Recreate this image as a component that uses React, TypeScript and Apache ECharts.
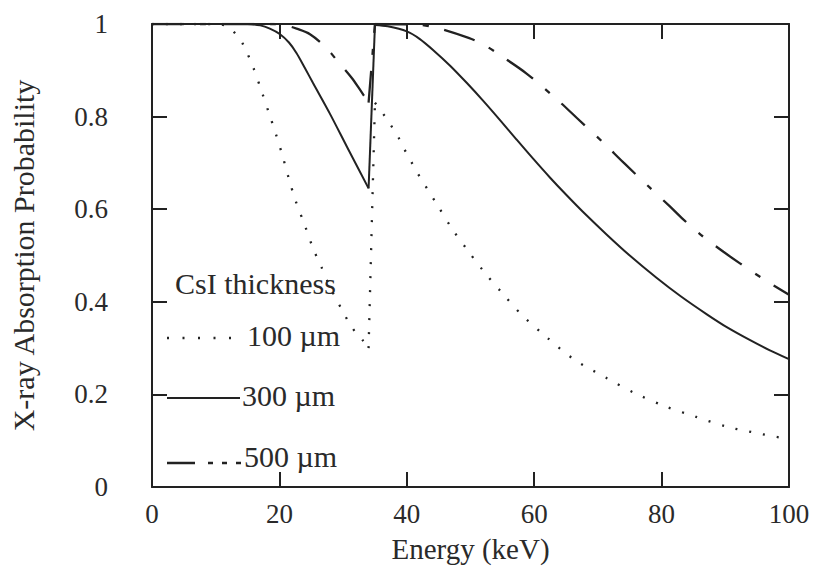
import React, { useEffect, useRef } from "react";
import * as echarts from "echarts";

// ---- data ----
const xTickValues = [0, 20, 40, 60, 80, 100];
const yTickValues = [0, 0.2, 0.4, 0.6, 0.8, 1];
const seriesNames = ["100 µm", "300 µm", "500 µm"];
const legendTitle = "CsI thickness";
const xTitle = "Energy (keV)";
const yTitle = "X-ray Absorption Probability";

// energy (keV), absorption probability — below and above the K edge
const csi100Below = [
  [0, 1], [10, 1], [12, 0.994], [13.1, 0.979], [14.3, 0.956], [15.9, 0.906],
  [17.1, 0.859], [18.3, 0.81], [19.5, 0.76], [20.5, 0.715], [21.5, 0.665],
  [22.6, 0.616], [24, 0.565], [25.3, 0.515], [26.6, 0.475], [28, 0.43],
  [29, 0.404], [30, 0.378], [31, 0.353], [32, 0.333], [33, 0.318], [34, 0.3],
];
const csi100Above = [
  [35, 0.83], [36.6, 0.8], [37.7, 0.777], [38.7, 0.755], [39.6, 0.73],
  [40.6, 0.705], [41.6, 0.68], [44.8, 0.609], [47, 0.56], [49.4, 0.514],
  [52, 0.467], [54.9, 0.42], [58.1, 0.371], [62, 0.323], [66.2, 0.276],
  [71.4, 0.235], [75.9, 0.202], [80.8, 0.173], [85.3, 0.152], [90.3, 0.13],
  [95.1, 0.116], [100, 0.103],
];
const csi300Below = [
  [0, 1], [15, 1], [17, 0.997], [18.5, 0.99], [20.1, 0.978], [21.5, 0.96],
  [22.7, 0.937], [24, 0.905], [25.3, 0.872], [27.9, 0.807], [30.6, 0.735],
  [34, 0.645],
];
const csi300Above = [
  [35, 0.998], [37, 0.995], [40, 0.984], [42, 0.968], [44.2, 0.943],
  [46.8, 0.91], [49.4, 0.873], [52, 0.834], [54.6, 0.793], [57.2, 0.751],
  [59.9, 0.708], [62.5, 0.668], [65.1, 0.63], [67.6, 0.595], [71.4, 0.545],
  [75, 0.5], [79.2, 0.452], [83, 0.412], [87.1, 0.373], [90.5, 0.343],
  [93.9, 0.317], [97, 0.295], [100, 0.276],
];
const csi500Below = [
  [0, 1], [19, 1], [21, 0.997], [22.7, 0.99], [24.8, 0.978], [27.2, 0.951],
  [29, 0.922], [31.4, 0.883], [32.7, 0.857], [34, 0.83],
];
const csi500Above = [
  [35, 1], [42, 0.998], [45.2, 0.99], [49.7, 0.97], [52, 0.956],
  [54.6, 0.933], [58.8, 0.893], [63.5, 0.838], [66.7, 0.797], [70.9, 0.743],
  [74, 0.701], [78.2, 0.646], [81.3, 0.606], [83.4, 0.578], [86.5, 0.541],
  [89.7, 0.508], [92.3, 0.483], [96, 0.449], [100, 0.415],
];

const FONT = "'Liberation Serif', 'Times New Roman', serif";
const INK = "#222";
const TEXT = "#2a2a2a";

const styles = [
  { color: INK, width: 2.3, type: [2, 12], cap: "butt" },
  { color: INK, width: 2, type: "solid" },
  { color: INK, width: 2.3, type: [32, 16, 6, 16] },
];

function curveSeries(name: string, below: number[][], above: number[][], lineStyle: any) {
  const edge = [below[below.length - 1], above[0]];
  const base = { type: "line" as const, name, showSymbol: false, lineStyle, silent: true };
  return [
    { ...base, data: below, smooth: 0.3 },
    { ...base, data: edge, smooth: false },
    { ...base, data: above, smooth: 0.3 },
  ];
}

export default function App() {
  const ref = useRef<HTMLDivElement>(null);
  useEffect(() => {
    if (!ref.current) return;
    const chart = echarts.init(ref.current, undefined, { renderer: "svg" });
    const frameAxis = {
      type: "value" as const,
      min: 0,
      axisLine: { show: true, onZero: false, lineStyle: { color: INK, width: 2 } },
      axisTick: { show: true, inside: true, length: 15, lineStyle: { color: INK, width: 2 } },
      splitLine: { show: false },
    };
    chart.setOption({
      animation: false,
      backgroundColor: "#fff",
      grid: { left: 152, right: 30, top: 24, bottom: 85, containLabel: false },
      xAxis: [
        {
          ...frameAxis,
          position: "bottom",
          max: xTickValues[xTickValues.length - 1],
          interval: xTickValues[1] - xTickValues[0],
          axisLabel: { fontFamily: FONT, fontSize: 27, color: TEXT, margin: 13 },
          name: xTitle,
          nameLocation: "middle",
          nameGap: 47,
          nameTextStyle: { fontFamily: FONT, fontSize: 29, color: TEXT },
        },
        {
          ...frameAxis,
          position: "top",
          max: xTickValues[xTickValues.length - 1],
          interval: xTickValues[1] - xTickValues[0],
          axisLabel: { show: false },
        },
      ],
      yAxis: [
        {
          ...frameAxis,
          position: "left",
          max: yTickValues[yTickValues.length - 1],
          interval: yTickValues[1] - yTickValues[0],
          axisLabel: { fontFamily: FONT, fontSize: 27, color: TEXT, margin: 44 },
          name: yTitle,
          nameLocation: "middle",
          nameGap: 114,
          nameTextStyle: { fontFamily: FONT, fontSize: 30, color: TEXT },
        },
        {
          ...frameAxis,
          position: "right",
          max: yTickValues[yTickValues.length - 1],
          interval: yTickValues[1] - yTickValues[0],
          axisLabel: { show: false },
        },
      ],
      series: [
        ...curveSeries(seriesNames[0], csi100Below, csi100Above, styles[0]),
        ...curveSeries(seriesNames[1], csi300Below, csi300Above, styles[1]),
        ...curveSeries(seriesNames[2], csi500Below, csi500Above, styles[2]),
      ],
      graphic: [
        {
          type: "text",
          left: 175,
          top: 268,
          style: { text: legendTitle, font: `30px ${FONT}`, fill: TEXT },
        },
        {
          type: "line",
          shape: { x1: 167, y1: 338, x2: 234, y2: 338 },
          style: { stroke: INK, lineWidth: 2.3, lineDash: [2, 13.5] },
        },
        {
          type: "text",
          left: 247,
          top: 320,
          style: { text: seriesNames[0], font: `30px ${FONT}`, fill: TEXT },
        },
        {
          type: "line",
          shape: { x1: 167, y1: 398, x2: 240, y2: 398 },
          style: { stroke: INK, lineWidth: 2 },
        },
        {
          type: "text",
          left: 242,
          top: 380,
          style: { text: seriesNames[1], font: `30px ${FONT}`, fill: TEXT },
        },
        {
          type: "line",
          shape: { x1: 167, y1: 463, x2: 242, y2: 463 },
          style: { stroke: INK, lineWidth: 2.3, lineDash: [28, 13, 5, 9, 5, 9, 5, 10] },
        },
        {
          type: "text",
          left: 244,
          top: 441,
          style: { text: seriesNames[2], font: `30px ${FONT}`, fill: TEXT },
        },
      ],
    });
    return () => chart.dispose();
  }, []);
  return (
    <div
      ref={ref}
      style={{ position: "fixed", left: 0, top: 0, width: 819, height: 572, background: "#fff" }}
    />
  );
}
